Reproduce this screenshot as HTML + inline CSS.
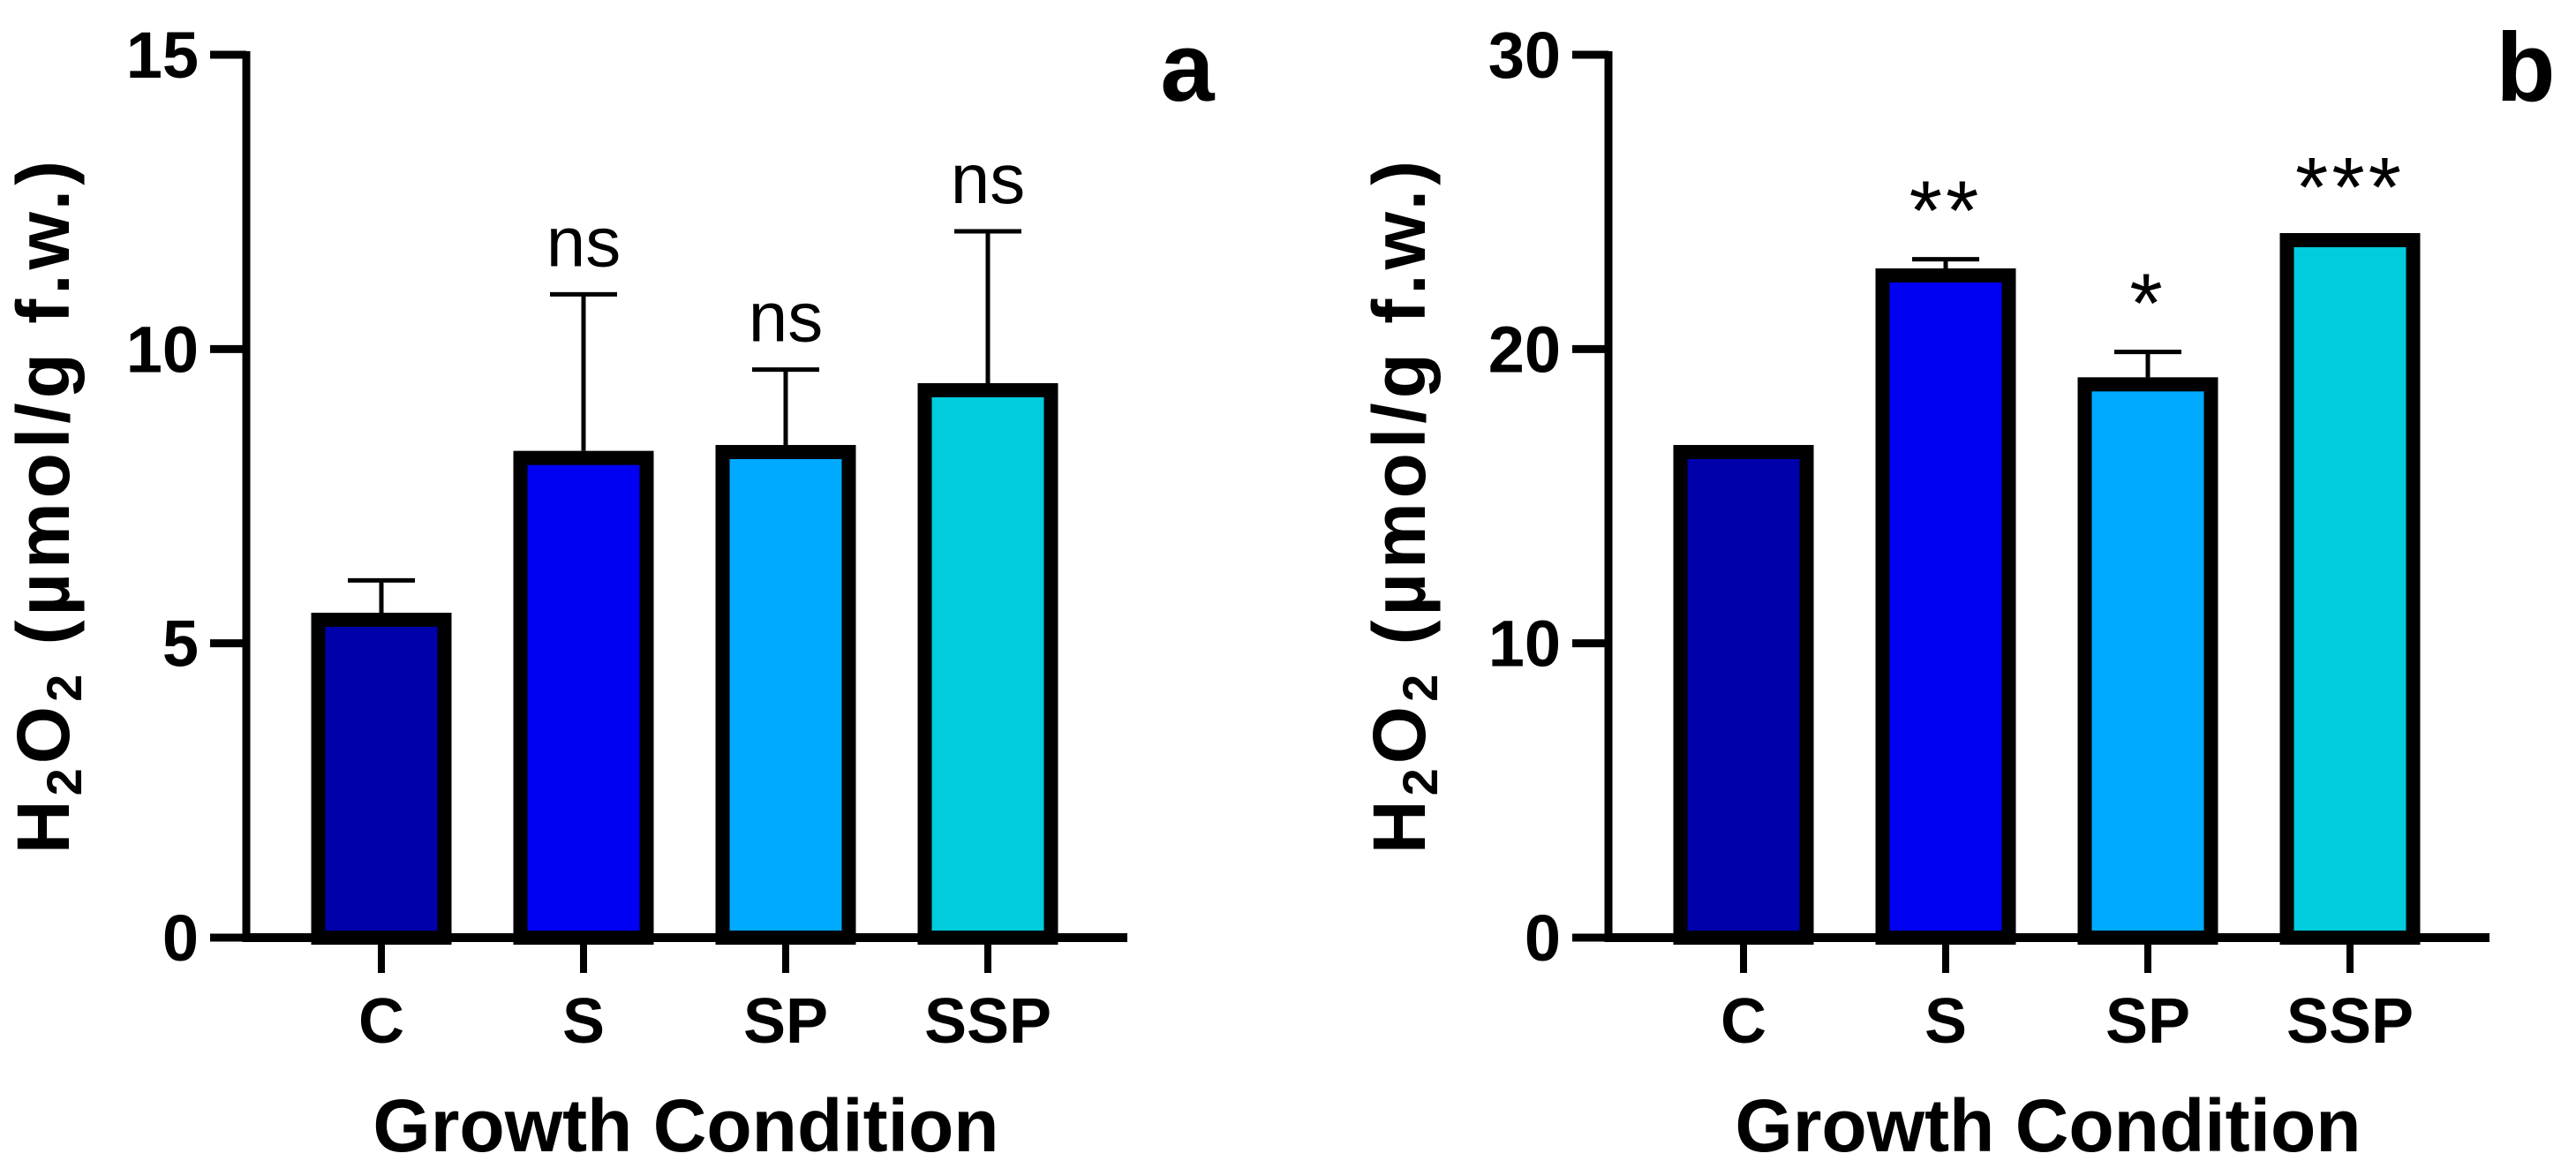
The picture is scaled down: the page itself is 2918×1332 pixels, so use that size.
<!DOCTYPE html>
<html><head><meta charset="utf-8"><style>
html,body{margin:0;padding:0;background:#fff;}
svg{display:block;font-family:"Liberation Sans",Arial,sans-serif;}
</style></head><body>
<svg id="fig" width="2918" height="1332" viewBox="0 0 2918 1332" xmlns="http://www.w3.org/2000/svg"></svg>
<script>
const categories = ["C","S","SP","SSP"];
const colors = ["#0000AA","#0000F2","#00AAFF","#00CCDD"];
const valuesA = [5.4, 8.15, 8.25, 9.3];
const errorsA = [6.07, 10.93, 9.65, 12.0];
const marksA = ["", "ns", "ns", "ns"];
const ticksA = [0,5,10,15];
const valuesB = [16.5, 22.5, 18.8, 23.7];
const errorsB = [16.65, 23.05, 19.9, 23.85];
const marksB = ["", "**", "*", "***"];
const ticksB = [0,10,20,30];

const NS="http://www.w3.org/2000/svg";
const svg=document.getElementById('fig');
function mk(tag,attrs,parent){const e=document.createElementNS(NS,tag);for(const k in attrs)e.setAttribute(k,attrs[k]);(parent||svg).appendChild(e);return e;}

function panel(ax, values, errors, marks, ticks, ymax, letter, letterX, titleX, id){
  const g=mk('g',{});
  
  
  const y0=1062, ytop=62;
  const y=v=>y0-(v/ymax)*(y0-ytop);
  const x=i=>ax+153+i*229;
  const bw=143;
  values.forEach((v,i)=>{
    const r=mk('rect',{x:x(i)-bw/2,y:y(v),width:bw,height:y0-y(v),fill:colors[i],stroke:'#000','stroke-width':16},g);
    
    
    const e=mk('path',{d:`M${x(i)} ${y(v)-8}V${y(errors[i])}M${x(i)-38} ${y(errors[i])}H${x(i)+38}`,stroke:'#000','stroke-width':5,fill:'none'},g);
    
    
    if(marks[i]){
      const isStar=marks[i].indexOf('*')>=0;
      const t=mk('text',{x:x(i),y:y(errors[i])-(isStar?22:32),'text-anchor':'middle','font-size':isStar?96:80,fill:'#000','letter-spacing':isStar?4:0},g);
      t.textContent=marks[i];
      
      
    }
    const tk=mk('line',{x1:x(i),x2:x(i),y1:y0,y2:1102,stroke:'#000','stroke-width':8},g);
    
    
    const lb=mk('text',{x:x(i),y:1181,'text-anchor':'middle','font-size':72,'font-weight':'bold'},g);
    lb.textContent=categories[i];
    
    
  });
  const ya=mk('line',{x1:ax,x2:ax,y1:ytop-4,y2:y0+5,stroke:'#000','stroke-width':9},g);
  
  
  const xa=mk('line',{x1:ax-4,x2:ax+998,y1:y0,y2:y0,stroke:'#000','stroke-width':10},g);
  
  
  ticks.forEach(t=>{
    const l=mk('line',{x1:ax-41,x2:ax,y1:y(t),y2:y(t),stroke:'#000','stroke-width':9},g);
    
    
    const tx=mk('text',{x:ax-54,y:y(t)+26,'text-anchor':'end','font-size':74,'font-weight':'bold'},g);
    tx.textContent=t;
    
    
  });
  const xt=mk('text',{x:ax+498,y:1304,'text-anchor':'middle','font-size':84,'font-weight':'bold'},g);
  xt.textContent='Growth Condition';
  
  
  const yt=mk('text',{x:0,y:0,'text-anchor':'middle','font-size':84,'font-weight':'bold','letter-spacing':5,transform:`translate(${titleX},572) rotate(-90)`},g);
  yt.innerHTML='H<tspan font-size="56" dy="14">2</tspan><tspan dy="-14">O</tspan><tspan font-size="56" dy="14">2</tspan><tspan dy="-14"> (µmol/g f.w.)</tspan>';
  
  
  const lt=mk('text',{x:letterX,y:114,'text-anchor':'middle','font-size':110,'font-weight':'bold'},g);
  lt.textContent=letter;
  
  
}
panel(279, valuesA, errorsA, marksA, ticksA, 15, 'a', 1345, 78, 'a');
panel(1822, valuesB, errorsB, marksB, ticksB, 30, 'b', 2861, 1614, 'b');
</script>
</body></html>
